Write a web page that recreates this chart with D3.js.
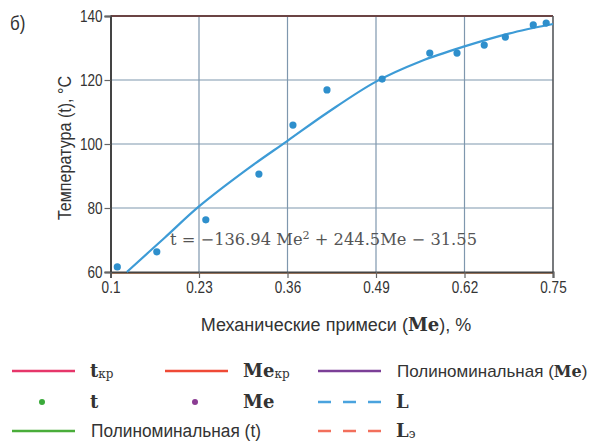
<!DOCTYPE html>
<html>
<head>
<meta charset="utf-8">
<script src="https://cdn.jsdelivr.net/npm/d3@7"></script>
<style>
  body { margin: 0; background: #fff; }
  svg { display: block; }
  .cond { font-family: "Liberation Sans", Arial, sans-serif; }
  .serif { font-family: "DejaVu Serif", "Liberation Serif", serif; }
</style>
</head>
<body>
<svg width="600" height="441"></svg>
<script>
// measured points: mechanical impurities (Me, %) vs temperature (t, °C)
const meValues = [0.11, 0.168, 0.24, 0.318, 0.368, 0.418, 0.499, 0.569, 0.609, 0.649, 0.68, 0.721, 0.74]
const tValues = [61.6, 66.3, 76.3, 90.6, 105.9, 116.9, 120.3, 128.4, 128.4, 130.9, 133.4, 137.2, 137.8]

// trend curve
const curveMe = [0.124, 0.18, 0.23, 0.30, 0.36, 0.42, 0.49, 0.555, 0.62, 0.685, 0.75]
const curveT = [60, 70.8, 80.5, 92, 101, 110, 119.5, 125.8, 130.5, 134.5, 137.5]

const xTicks = [0.1, 0.23, 0.36, 0.49, 0.62, 0.75]
const yTicks = [60, 80, 100, 120, 140]

const svg = d3.select('svg')
const plotL = 110.5, plotR = 553, plotT = 16, plotB = 272

const x = d3.scaleLinear().domain([0.1, 0.75]).range([plotL, plotR])
const y = d3.scaleLinear().domain([60, 140]).range([plotB, plotT])

// squeeze a text horizontally to imitate a narrow typeface
function condense(sel, k) {
  sel.each(function () {
    const w = this.getComputedTextLength()
    d3.select(this).attr('textLength', w * k).attr('lengthAdjust', 'spacingAndGlyphs')
  })
}

const gridColor = '#7f97ae'

// grid
svg.append('g').selectAll('line')
  .data(xTicks.slice(1, -1))
  .enter().append('line')
  .attr('x1', d => x(d)).attr('x2', d => x(d))
  .attr('y1', plotT).attr('y2', plotB)
  .attr('stroke', gridColor).attr('stroke-width', 1.2)
svg.append('g').selectAll('line')
  .data(yTicks.slice(1, -1))
  .enter().append('line')
  .attr('x1', plotL).attr('x2', plotR)
  .attr('y1', d => y(d)).attr('y2', d => y(d))
  .attr('stroke', gridColor).attr('stroke-width', 1.2)

// frame
svg.append('line').attr('x1', plotL).attr('x2', plotR).attr('y1', plotT).attr('y2', plotT)
  .attr('stroke', '#6b4444').attr('stroke-width', 2)
svg.append('line').attr('x1', plotR).attr('x2', plotR).attr('y1', plotT).attr('y2', plotB)
  .attr('stroke', '#55585c').attr('stroke-width', 1.6)
svg.append('line').attr('x1', plotL).attr('x2', plotR).attr('y1', plotB + 1.5).attr('y2', plotB + 1.5)
  .attr('stroke', '#e8a070').attr('stroke-width', 1)

// axes
const yAxis = svg.append('g')
  .attr('transform', `translate(${plotL},0)`)
  .call(d3.axisLeft(y).tickValues(yTicks).tickSize(6).tickPadding(2))
const xAxis = svg.append('g')
  .attr('transform', `translate(0,${plotB})`)
  .call(d3.axisBottom(x).tickValues(xTicks).tickFormat(d => String(d)).tickSize(6).tickPadding(3))
for (const ax of [xAxis, yAxis]) {
  ax.select('.domain').attr('stroke', '#444').attr('stroke-width', 2)
  ax.selectAll('.tick line').attr('stroke', '#666').attr('stroke-width', 1.2)
  ax.selectAll('.tick text').attr('class', 'cond').attr('font-size', 16.5).attr('fill', '#333')
    .call(condense, 0.82)
}

// curve
const line = d3.line()
  .x((d, i) => x(curveMe[i]))
  .y(d => y(d))
  .curve(d3.curveCatmullRom.alpha(0.5))
svg.append('path')
  .datum(curveT)
  .attr('d', line)
  .attr('fill', 'none')
  .attr('stroke', '#3d9bd6')
  .attr('stroke-width', 2.2)

// points
svg.append('g').selectAll('circle')
  .data(tValues)
  .enter().append('circle')
  .attr('cx', (d, i) => x(meValues[i]))
  .attr('cy', d => y(d))
  .attr('r', 3.6)
  .attr('fill', '#2e8fcc')

// equation
const eq = svg.append('text').attr('class', 'serif')
  .attr('x', 170).attr('y', 245).attr('font-size', 16).attr('fill', '#555')
eq.append('tspan').text('t = \u2212136.94 Me')
eq.append('tspan').attr('dy', -6).attr('font-size', 11).text('2')
eq.append('tspan').attr('dy', 6).text(' + 244.5Me \u2212 31.55')
eq.attr('textLength', 307).attr('lengthAdjust', 'spacingAndGlyphs')

// labels
svg.append('text').attr('class', 'cond')
  .attr('x', 10).attr('y', 30).attr('font-size', 20).attr('fill', '#333').text('б)')
  .call(condense, 0.85)

svg.append('text').attr('class', 'cond')
  .attr('transform', `translate(71,148) rotate(-90)`)
  .attr('text-anchor', 'middle').attr('font-size', 17.5).attr('fill', '#333')
  .text('Температура (t), °C')
  .call(condense, 0.92)

const xl = svg.append('text').attr('class', 'cond')
  .attr('x', 336).attr('y', 331).attr('text-anchor', 'middle')
  .attr('font-size', 18).attr('fill', '#333')
xl.append('tspan').text('Механические примеси (')
xl.append('tspan').attr('class', 'serif').attr('font-weight', 'bold').text('Me')
xl.append('tspan').text('), %')

// legend
const legendRows = [371, 402, 431]
const legendItems = [
  { col: 0, row: 0, kind: 'line', color: '#e6366a', label: 't', sub: 'кр' },
  { col: 1, row: 0, kind: 'line', color: '#ef4a36', label: 'Me', sub: 'кр' },
  { col: 2, row: 0, kind: 'line', color: '#7b3f97', label: 'Полиноминальная (', bold: 'Me', tail: ')' },
  { col: 0, row: 1, kind: 'dot', color: '#3aaa3a', label: 't' },
  { col: 1, row: 1, kind: 'dot', color: '#8b3c93', label: 'Me' },
  { col: 2, row: 1, kind: 'dash', color: '#4aa3de', label: 'L' },
  { col: 0, row: 2, kind: 'line', color: '#4aad3a', label: 'Полиноминальная (t)', plain: true },
  { col: 2, row: 2, kind: 'dash', color: '#f26f5c', label: 'L', sub: 'э' },
]
const colX = [12, 165, 318]

const legend = svg.append('g')
legendItems.forEach(it => {
  const x0 = colX[it.col], y0 = legendRows[it.row]
  if (it.kind === 'dot') {
    legend.append('circle').attr('cx', x0 + 30).attr('cy', y0).attr('r', 3).attr('fill', it.color)
  } else {
    legend.append('line').attr('x1', x0).attr('x2', x0 + 63).attr('y1', y0).attr('y2', y0)
      .attr('stroke', it.color).attr('stroke-width', 2.5)
      .attr('stroke-dasharray', it.kind === 'dash' ? '13,12' : null)
  }
  const tx = legend.append('text').attr('y', y0 + 6).attr('fill', '#333')
  if (it.bold) {
    tx.attr('class', 'cond').attr('font-size', 17).attr('x', x0 + 79)
    tx.append('tspan').text(it.label)
    tx.append('tspan').attr('class', 'serif').attr('font-weight', 'bold').attr('font-size', 16).text(it.bold)
    tx.append('tspan').text(it.tail)
  } else if (it.plain) {
    tx.attr('class', 'cond').attr('font-size', 18).attr('x', x0 + 79).text(it.label)
      .call(condense, 0.96)
  } else {
    tx.attr('class', 'serif').attr('font-size', 18).attr('font-weight', 'bold')
      .attr('x', x0 + 78)
    tx.append('tspan').text(it.label)
    if (it.sub) tx.append('tspan').attr('font-size', 12).attr('font-weight', 'normal').attr('dy', 1).text(it.sub)
  }
})
</script>
</body>
</html>
